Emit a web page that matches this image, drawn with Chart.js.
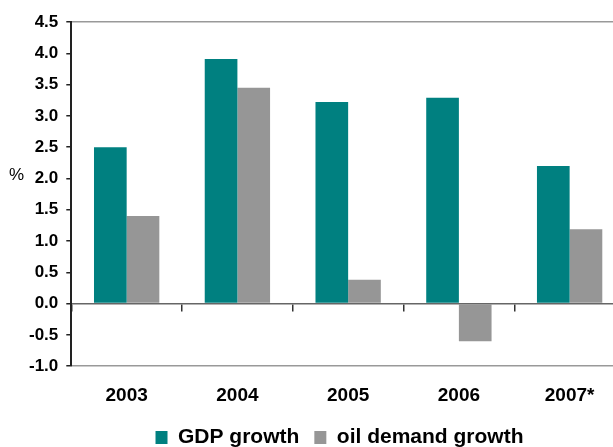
<!DOCTYPE html>
<html>
<head>
<meta charset="utf-8">
<script src="https://cdn.jsdelivr.net/npm/chart.js@4"></script>
<style>
  html, body { margin: 0; padding: 0; background: #fff; overflow: hidden; }
  #wrap { width: 686px; height: 458px; }
</style>
</head>
<body>
<div id="wrap"><canvas id="c" width="686" height="458"></canvas></div>
<script>
const categories = ['2003', '2004', '2005', '2006', '2007*'];
const gdpGrowth = [2.5, 3.91, 3.22, 3.29, 2.2];
const oilDemandGrowth = [1.4, 3.45, 0.38, -0.6, 1.19];
const seriesNames = ['GDP growth', 'oil demand growth'];
const yMin = -1.0, yMax = 4.5, yStep = 0.5;
const axisUnit = '%';

const FONT = "'Liberation Sans', Arial, sans-serif";

const percentLabel = {
  id: 'percentLabel',
  afterDraw(chart) {
    const ctx = chart.ctx;
    const y = chart.scales.y.getPixelForValue(2.0) - 3;
    ctx.save();
    ctx.font = "17px " + FONT;
    ctx.fillStyle = '#000';
    ctx.textAlign = 'left';
    ctx.textBaseline = 'middle';
    ctx.fillText(axisUnit, 9, y);
    ctx.restore();
  }
};

new Chart(document.getElementById('c'), {
  type: 'bar',
  data: {
    labels: categories,
    datasets: [
      { label: seriesNames[0], data: gdpGrowth, backgroundColor: '#008080', borderWidth: 0,
        categoryPercentage: 0.59, barPercentage: 1.0 },
      { label: seriesNames[1], data: oilDemandGrowth, backgroundColor: '#969696', borderWidth: 0,
        categoryPercentage: 0.59, barPercentage: 1.0 }
    ]
  },
  options: {
    responsive: false,
    animation: false,
    layout: { padding: { left: 21, right: 28, top: 22, bottom: 0 } },
    plugins: {
      tooltip: { enabled: false },
      legend: {
        position: 'bottom',
        labels: {
          font: { family: FONT, size: 21, weight: 'bold' },
          color: '#000',
          boxWidth: 12,
          boxHeight: 13,
          padding: 15
        }
      }
    },
    scales: {
      x: {
        position: 'bottom',
        grid: { display: false, drawTicks: true, tickLength: 13 },
        border: { display: false },
        ticks: { font: { family: FONT, size: 19, weight: 'bold' }, color: '#000', padding: 5 }
      },
      x2: {
        type: 'category',
        labels: categories,
        position: { y: 0 },
        afterFit: s => { s.height = 0; },
        grid: { offset: true, drawOnChartArea: false, drawTicks: true, tickLength: 7, color: '#333', lineWidth: 1.5 },
        border: { display: true, color: '#666', width: 1.5 },
        ticks: { display: false }
      },
      y: {
        min: yMin,
        max: yMax,
        ticks: {
          stepSize: yStep,
          font: { family: FONT, size: 17, weight: 'bold' },
          color: '#000',
          padding: 8,
          callback: v => Number(v).toFixed(1)
        },
        grid: {
          drawTicks: true,
          tickLength: 5,
          tickColor: '#222',
          lineWidth: 1.5,
          color: ctx => {
            const v = ctx.tick ? ctx.tick.value : null;
            if (v === yMax || v === yMin) return '#999';
            return 'rgba(0,0,0,0)';
          }
        },
        border: { display: true, color: '#222', width: 2 }
      },
      yRight: {
        position: 'right',
        afterFit: s => { s.width = 33; },
        grid: { display: false },
        border: { display: false },
        ticks: { display: false }
      }
    }
  },
  plugins: [percentLabel]
});
</script>
</body>
</html>
